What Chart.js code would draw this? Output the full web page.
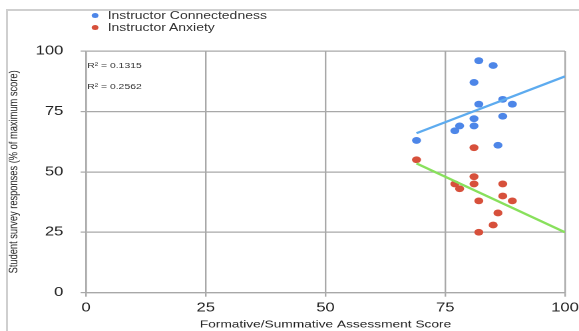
<!DOCTYPE html>
<html>
<head>
<meta charset="utf-8">
<script src="https://cdn.jsdelivr.net/npm/chart.js@4.4.1/dist/chart.umd.min.js"></script>
<style>
  html, body { margin: 0; padding: 0; background: #fff; }
  body { width: 579px; height: 331px; position: relative; overflow: hidden;
         font-family: 'Liberation Sans', Arial, Helvetica, sans-serif; color: #333; }
  /* light frame on the left and top edges of the picture */
  #frame { position: absolute; left: 6px; top: 9px; right: -4px; bottom: -4px;
           border-left: 2px solid #cfcfcf; border-top: 2px solid #cfcfcf; }
  /* the source picture is stretched sideways, so draw narrow then scale */
  #wrap { position: absolute; left: 0; top: 0; width: 435px; height: 331px;
          transform: scaleX(1.331); transform-origin: 0 0; }
  .legend { position: absolute; left: 68.9px; font-size: 10.5px; line-height: 12px; color: #333; }
  .legend .dot { display: inline-block; width: 5px; height: 5px; border-radius: 50%;
                 margin-right: 7px; vertical-align: 1px; }
  .r2 { position: absolute; left: 65.5px; font-size: 7.8px; line-height: 9px; color: #333; }
</style>
</head>
<body>
<div id="frame"></div>
<div id="wrap">
  <canvas id="chart"></canvas>
  <div class="legend" style="top:9px"><span class="dot" style="background:#4d86e8"></span>Instructor Connectedness</div>
  <div class="legend" style="top:21px"><span class="dot" style="background:#d7503b"></span>Instructor Anxiety</div>
  <div class="r2" style="top:61px">R² = 0.1315</div>
  <div class="r2" style="top:82px">R² = 0.2562</div>
</div>
<script>
/* ---------- data ---------- */

const xTicks = [0, 25, 50, 75, 100];
const yTicks = [0, 25, 50, 75, 100];

const connX = [82, 85, 81, 82, 87, 89, 81, 87, 78, 77, 81, 69, 86];
const connY = [96, 94, 87, 78, 80, 78, 72, 73, 69, 67, 69, 63, 61];

const anxX = [81, 69, 81, 77, 81, 87, 78, 87, 82, 89, 86, 85, 82];
const anxY = [60, 55, 48, 45, 45, 45, 43, 40, 38, 38, 33, 28, 25];

// trend line end points
const connTrendX = [69, 100];
const connTrendY = [66, 89.5];
const anxTrendX = [69, 100];
const anxTrendY = [53.5, 25];

/* ---------- chart ---------- */

const FONT = "'Liberation Sans', Arial, Helvetica, sans-serif";
const GRID = '#a8a8a8';

function pts(xs, ys) {
  return xs.map((x, i) => ({ x, y: ys[i] }));
}

new Chart(document.getElementById('chart').getContext('2d'), {
  type: 'scatter',
  data: {
    datasets: [
      {
        label: 'Connectedness trend',
        type: 'line',
        data: pts(connTrendX, connTrendY),
        borderColor: '#5dabef',
        borderWidth: 2.2,
        pointRadius: 0,
        fill: false
      },
      {
        label: 'Anxiety trend',
        type: 'line',
        data: pts(anxTrendX, anxTrendY),
        borderColor: '#88e05c',
        borderWidth: 2.2,
        pointRadius: 0,
        fill: false
      },
      {
        label: 'Instructor Connectedness',
        data: pts(connX, connY),
        backgroundColor: '#4d86e8',
        borderWidth: 0,
        pointRadius: 3.4
      },
      {
        label: 'Instructor Anxiety',
        data: pts(anxX, anxY),
        backgroundColor: '#d7503b',
        borderWidth: 0,
        pointRadius: 3.4
      }
    ]
  },
  options: {
    responsive: true,
    maintainAspectRatio: false,
    animation: false,
    devicePixelRatio: 2,
    layout: { padding: { left: 0, right: 10.5, top: 51, bottom: 0 } },
    plugins: { legend: { display: false }, tooltip: { enabled: false } },
    scales: {
      x: {
        type: 'linear',
        min: 0,
        max: 100,
        afterBuildTicks: s => { s.ticks = xTicks.map(v => ({ value: v })); },
        // let the "100" label hang into the right padding like the original
        afterFit: s => { s.height = 38.3; s.paddingLeft = 0; s.paddingRight = 0; },
        grid: { color: GRID, lineWidth: 1.2, tickLength: 4 },
        border: { color: GRID, width: 1.2 },
        ticks: { color: '#222', padding: 4, maxRotation: 0, font: { family: FONT, size: 12.5 } },
        title: {
          display: true,
          text: 'Formative/Summative Assessment Score',
          color: '#222',
          padding: { top: 0, bottom: 0 },
          font: { family: FONT, size: 10.3 }
        }
      },
      y: {
        type: 'linear',
        min: 0,
        max: 100,
        afterBuildTicks: s => { s.ticks = yTicks.map(v => ({ value: v })); },
        afterFit: s => { s.width = 64.6; },
        grid: { color: GRID, lineWidth: 1.2, tickLength: 4 },
        border: { color: GRID, width: 1.2 },
        ticks: { color: '#222', padding: 13, font: { family: FONT, size: 12.5 } },
        title: {
          display: true,
          text: 'Student survey responses (% of maximum score)',
          color: '#222',
          padding: { top: 5, bottom: 0 },
          font: { family: FONT, size: 9.3 }
        }
      }
    }
  }
});
</script>
</body>
</html>
